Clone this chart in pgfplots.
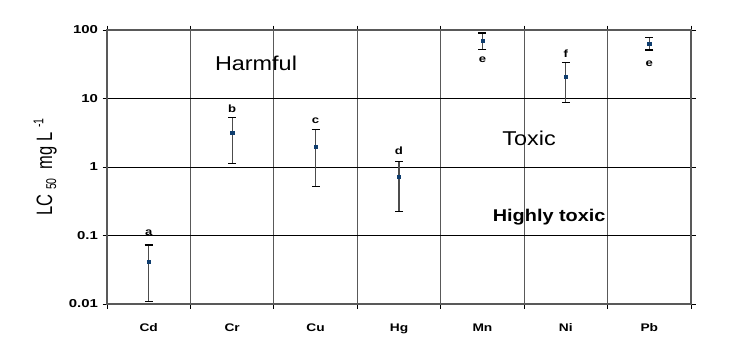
\documentclass[border=0pt]{standalone}
\usepackage{pgfplots}
\pgfplotsset{compat=1.18}
\usepackage{fontspec}
\setmainfont{Liberation Sans}
\newfontfamily\tickfont{Liberation Sans}[FakeStretch=1.3]
\newfontfamily\catfont{Liberation Sans}[FakeStretch=1.25]
\newfontfamily\zonefont{Liberation Sans}[FakeStretch=1.17]
\newfontfamily\ylabfont{Liberation Sans}
\definecolor{ptblue}{HTML}{0F3D6E}
\definecolor{gridgray}{gray}{0.35}
\begin{document}
\begin{tikzpicture}
\begin{axis}[
  scale only axis, width=584pt, height=274pt,
  ymode=log, ymin=0.01, ymax=100, xmin=0, xmax=7,
  yminorticks=false,
  ytick={0.01,0.1,1,10,100},
  yticklabels={0.01,0.1,1,10,100},
  yticklabel style={font=\tickfont\bfseries\fontsize{11.5}{13}\selectfont, xshift=-1pt},
  xtick={0,1,2,3,4,5,6,7}, xticklabels={},
  xmajorgrids, ymajorgrids,
  x grid style={gridgray, line width=1pt},
  y grid style={black, line width=0.8pt},
  tick align=outside, major tick length=4.5pt,
  tick style={black, line width=0.8pt},
  axis line style={gridgray, line width=1.3pt},
  extra x ticks={0.5,1.5,2.5,3.5,4.5,5.5,6.5},
  extra x tick labels={Cd,Cr,Cu,Hg,Mn,Ni,Pb},
  extra x tick style={major tick length=0pt, grid=none,
    xticklabel style={font=\catfont\bfseries\fontsize{11}{13}\selectfont, yshift=-16pt}},
  ylabel={\scalebox{1}[1.35]{\ylabfont\fontsize{16.5}{19}\selectfont LC\ \raisebox{-3pt}{\fontsize{10.5}{12}\selectfont 50}\ \ mg L \raisebox{6.5pt}{\fontsize{10.5}{12}\selectfont -1}}},
  ylabel style={at={(axis description cs:-0.106,0.5)}, anchor=center},
  clip=false,
]
\addplot[only marks, mark=square*, mark size=1.6pt, mark options={ptblue},
  error bars/.cd, y dir=both, y explicit,
  error bar style={black!70, line width=1.2pt},
  error mark options={rotate=90, mark size=4pt, line width=1.1pt, black}]
  coordinates {
  (0.5,0.0414) += (0,0.0313) -= (0,0.0304)
  (1.5,3.17) += (0,2.07) -= (0,2.04)
  (2.5,1.98) += (0,1.57) -= (0,1.46)
  (3.5,0.72) += (0,0.49) -= (0,0.495)
  (4.5,69.8) += (0,20.6) -= (0,17.5)
  (5.5,20.8) += (0,12.9) -= (0,12.0)
  (6.5,63) += (0,15.2) -= (0,12)
  };
\begin{scope}[every node/.style={font=\catfont\bfseries\fontsize{10.5}{12}\selectfont}]
\node at (axis cs:0.5,0.110) {a};
\node at (axis cs:1.5,7.03) {b};
\node at (axis cs:2.5,4.69) {c};
\node at (axis cs:3.5,1.71) {d};
\node at (axis cs:4.5,37.3) {e};
\node at (axis cs:5.5,45.7) {f};
\node at (axis cs:6.5,32.2) {e};
\end{scope}
\node[font=\zonefont\fontsize{20}{24}\selectfont] at (axis cs:1.786,33) {Harmful};
\node[font=\zonefont\fontsize{20}{24}\selectfont] at (axis cs:5.06,2.65) {Toxic};
\node[font=\zonefont\bfseries\fontsize{17}{20}\selectfont] at (axis cs:5.30,0.186) {Highly toxic};
\end{axis}
\path ([shift={(-107pt,-44pt)}]current axis.south west) rectangle ([shift={(50pt,30pt)}]current axis.north east);
\end{tikzpicture}
\end{document}
